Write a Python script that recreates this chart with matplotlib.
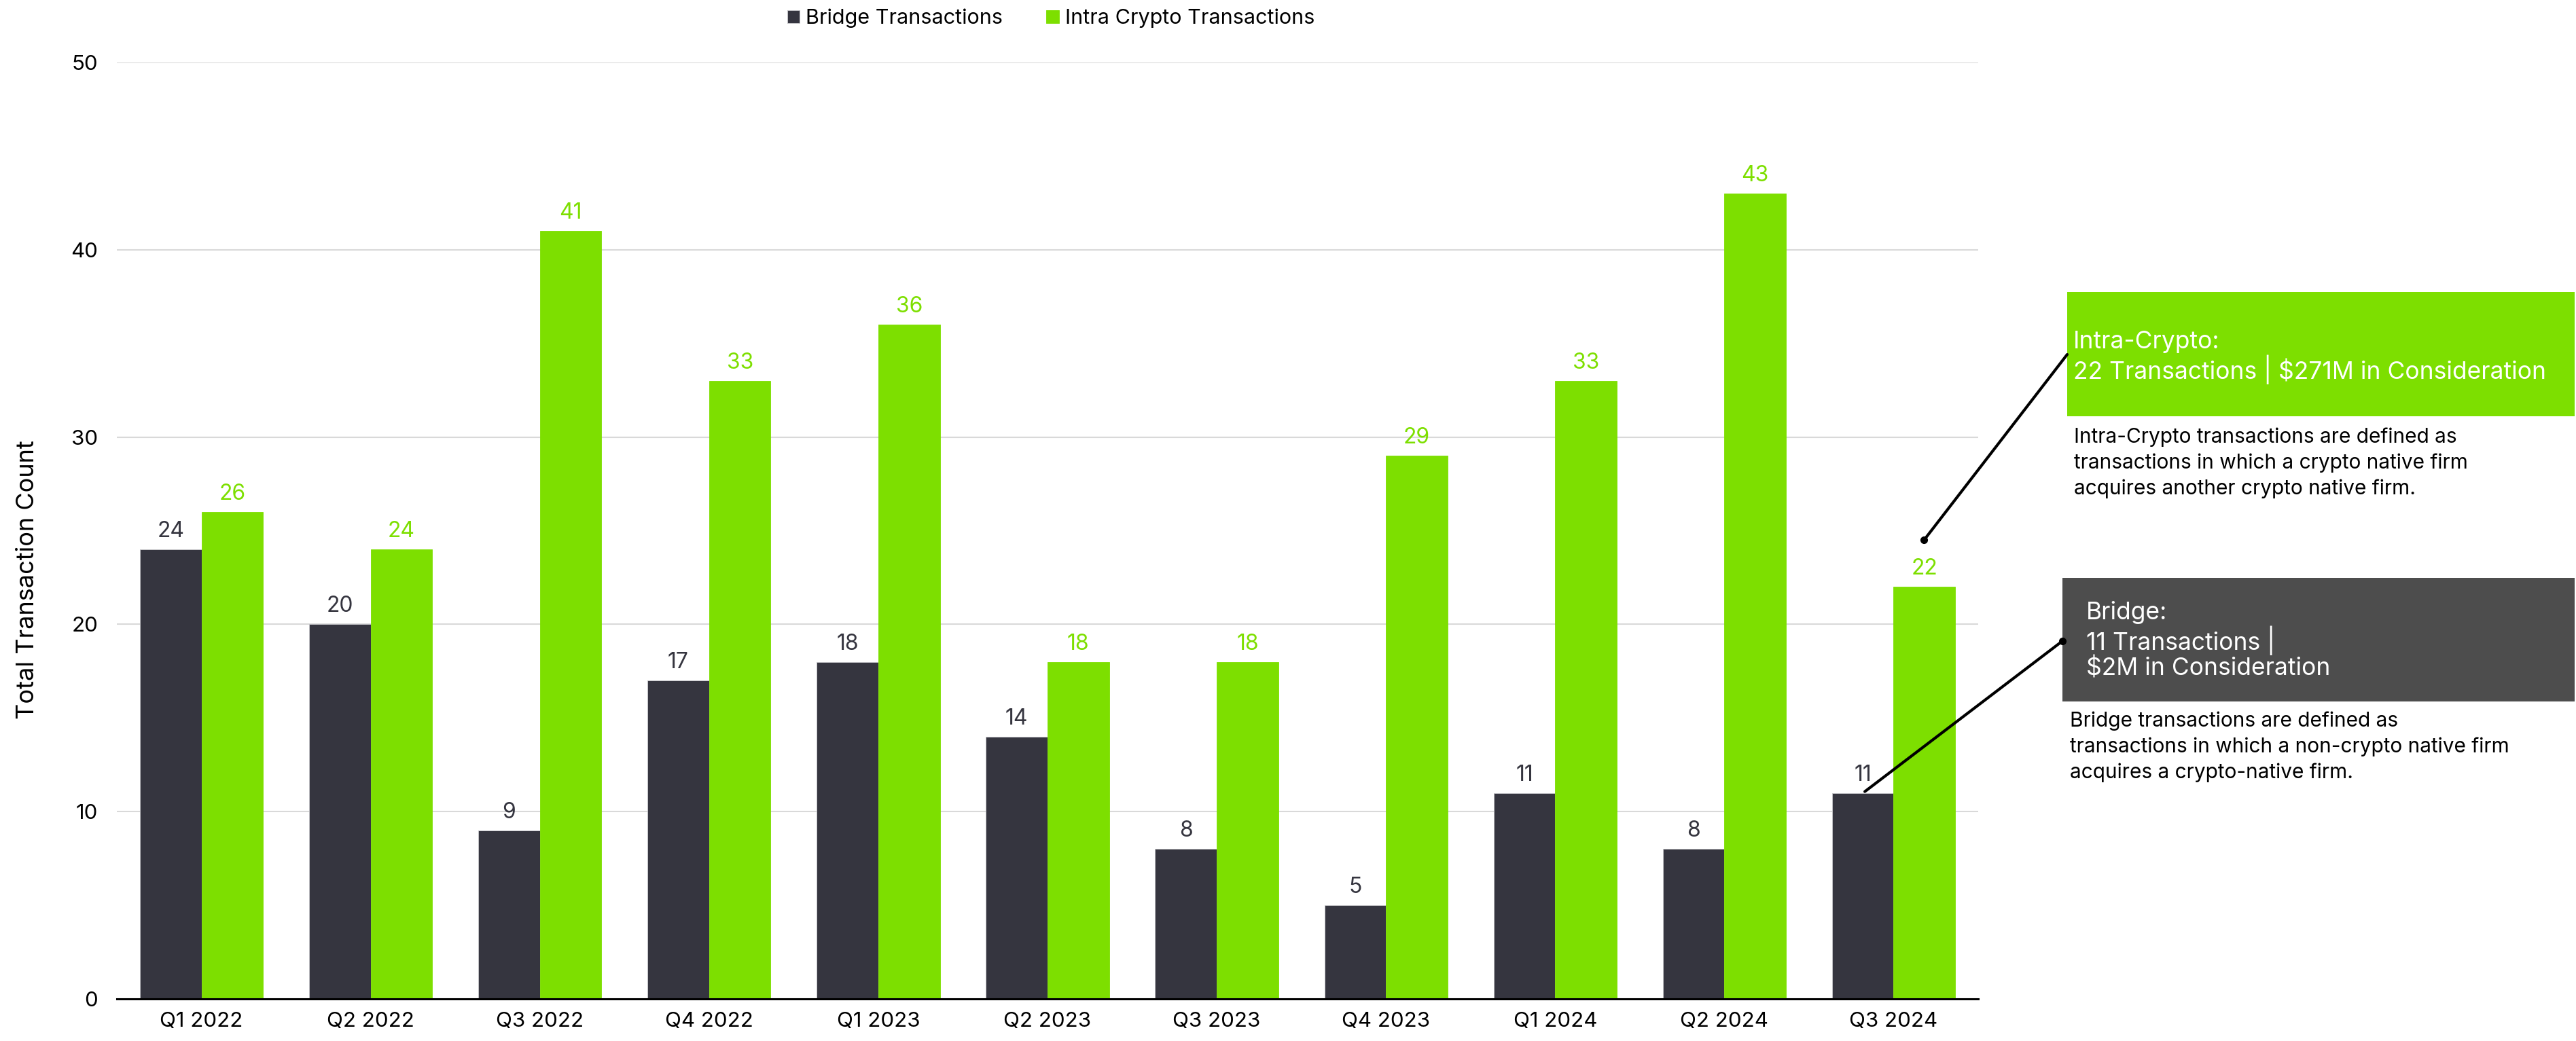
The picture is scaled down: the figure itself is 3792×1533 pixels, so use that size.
import matplotlib
matplotlib.use("Agg")
import matplotlib.pyplot as plt
from matplotlib.patches import Rectangle, ConnectionPatch
import numpy as np

plt.rcParams['font.family'] = ['Inter', 'DejaVu Sans']

quarters = ["Q1 2022", "Q2 2022", "Q3 2022", "Q4 2022", "Q1 2023", "Q2 2023",
            "Q3 2023", "Q4 2023", "Q1 2024", "Q2 2024", "Q3 2024"]
bridge = [24, 20, 9, 17, 18, 14, 8, 5, 11, 8, 11]
intra = [26, 24, 41, 33, 36, 18, 18, 29, 33, 43, 22]
y_ticks = [0, 10, 20, 30, 40, 50]

DARK = "#35353f"
GREEN = "#7ddf00"
BOX_GREY = "#4d4d4d"

W, H = 3792, 1533
fig = plt.figure(figsize=(W / 100, H / 100), dpi=100)
ax = fig.add_axes([172 / W, 1 - 1471 / H, (2912 - 172) / W, (1471 - 92) / H])

x = np.arange(len(quarters))
bw = 0.364
b1 = ax.bar(x - bw / 2, bridge, bw, color=DARK, edgecolor="#c8c8cc", linewidth=0.6,
            label="Bridge Transactions", zorder=3)
b2 = ax.bar(x + bw / 2, intra, bw, color=GREEN, edgecolor=GREEN, linewidth=0.6,
            label="Intra Crypto Transactions", zorder=3)

for rect, v in zip(b1, bridge):
    ax.annotate(f"{v}", (rect.get_x() + rect.get_width() / 2, v), xytext=(0, 13),
                textcoords="offset points", ha="center", va="baseline",
                fontsize=23, color=DARK)
for rect, v in zip(b2, intra):
    ax.annotate(f"{v}", (rect.get_x() + rect.get_width() / 2, v), xytext=(0, 13),
                textcoords="offset points", ha="center", va="baseline",
                fontsize=23, color=GREEN)

ax.set_xlim(-0.5, len(quarters) - 0.5)
ax.set_ylim(0, 50)
ax.set_yticks(y_ticks)
ax.set_xticks(x)
ax.set_xticklabels(quarters)
ax.tick_params(axis="both", length=0, labelsize=22.5, colors="black")
ax.tick_params(axis="y", pad=20)
ax.tick_params(axis="x", pad=14)
ax.yaxis.grid(True, color="#d9d9d9", linewidth=1.5, zorder=0)
ax.set_axisbelow(True)
for s in ["left", "right", "top"]:
    ax.spines[s].set_visible(False)
ax.spines["bottom"].set_color("black")
ax.spines["bottom"].set_linewidth(2.2)
ax.spines["bottom"].set_zorder(4)

fig.text(41 / W, 1 - 854 / H, "Total Transaction Count", rotation=90,
         ha="center", va="center", fontsize=26, color="black")

fig.legend(handles=[b1, b2], loc="center", bbox_to_anchor=(1547 / W, 1 - 27 / H),
           ncol=2, frameon=False, fontsize=22, handlelength=0.6, handleheight=0.6,
           handletextpad=0.3, columnspacing=2.1)


def fx(px):
    return px / W


def fy(py):
    return 1 - py / H


# Intra-Crypto callout
fig.add_artist(Rectangle((fx(3043), fy(613)), (3790 - 3043) / W, (613 - 430) / H,
                         transform=fig.transFigure, facecolor=GREEN, edgecolor="none"))
for txt, yc in [("Intra-Crypto:", 503),
                ("22 Transactions | $271M in Consideration", 544)]:
    fig.text(fx(3052), fy(yc), txt, color="white", fontsize=25.5, va="center", ha="left")
for txt, yb in [("Intra-Crypto transactions are defined as", 652),
                ("transactions in which a crypto native firm", 690),
                ("acquires another crypto native firm.", 728)]:
    fig.text(fx(3053), fy(yb), txt, color="black", fontsize=21.5, va="baseline", ha="left")

# Bridge callout
fig.add_artist(Rectangle((fx(3036), fy(1033)), (3790 - 3036) / W, (1033 - 851) / H,
                         transform=fig.transFigure, facecolor=BOX_GREY, edgecolor="none"))
for txt, yc in [("Bridge:", 902), ("11 Transactions |", 943),
                ("$2M in Consideration", 984)]:
    fig.text(fx(3071), fy(yc), txt, color="white", fontsize=25.5, va="center", ha="left")
for txt, yb in [("Bridge transactions are defined as", 1070),
                ("transactions in which a non-crypto native firm", 1108),
                ("acquires a crypto-native firm.", 1146)]:
    fig.text(fx(3047), fy(yb), txt, color="black", fontsize=21.5, va="baseline", ha="left")

# Connector lines from bars to callouts
last = len(quarters) - 1
con1 = ConnectionPatch(xyA=(last + 0.18, 24.5), coordsA=ax.transData,
                       xyB=(fx(3043), fy(522)), coordsB=fig.transFigure,
                       color="black", linewidth=3)
fig.add_artist(con1)
ax.plot([last + 0.18], [24.5], "o", color="black", markersize=7, clip_on=False, zorder=5)

con2 = ConnectionPatch(xyA=(last - 0.17, 11.07), coordsA=ax.transData,
                       xyB=(fx(3036), fy(944)), coordsB=fig.transFigure,
                       color="black", linewidth=3)
fig.add_artist(con2)
fig.add_artist(plt.Line2D([fx(3036)], [fy(944)], marker="o", color="black",
                          markersize=7, transform=fig.transFigure))

fig.savefig("out.png", dpi=100, facecolor="white")
